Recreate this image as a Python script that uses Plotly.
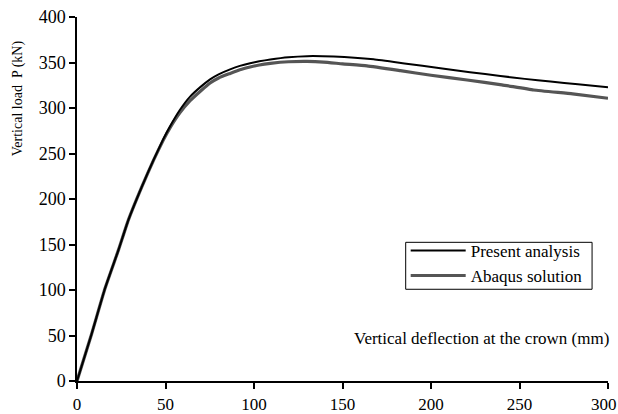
import plotly.graph_objects as go

# Present analysis (solid black)
present_x = [0, 8.3, 15.8, 23.4, 29, 36.6, 43.2, 48.8, 52.6, 58, 63.9, 70, 75.2, 80, 86.5, 92,
             97.8, 103, 109.2, 119.5, 130, 145, 167.6, 185, 205.3, 222, 239.2, 253, 267.5, 283, 300]
present_y = [0, 52, 101.6, 143.8, 176.8, 213.4, 242.8, 266, 280, 297.5, 312.5, 323.5, 331.5, 337,
             342.5, 346.3, 349.2, 351.3, 353.3, 355.8, 357, 356.5, 353.5, 349, 343.6, 339.3, 335.2,
             332, 329, 326, 322.8]

# Abaqus solution (grey, thick)
abaqus_x = [0, 8.3, 15.8, 23.4, 29, 36.6, 43.2, 48.8, 52.6, 58, 63.9, 70, 75.2, 80, 86.5, 92,
            97.8, 103, 109.2, 119.5, 130, 139.3, 150, 163.8, 182.7, 200, 220.4, 240, 258, 280, 300]
abaqus_y = [0, 52, 101.6, 143.8, 176.8, 213.4, 242.5, 265, 278.5, 294.5, 308, 319, 327.5, 333,
            338, 342, 345, 347.2, 349, 350.8, 351.2, 350.5, 348.5, 346.2, 341, 336, 330.8, 325.5,
            319.8, 315.5, 310.7]

x_ticks = [0, 50, 100, 150, 200, 250, 300]
x_tick_text = ["0", "50", "100", "150", "200", "250", "300\u00a0\u00a0"]
y_ticks = [0, 50, 100, 150, 200, 250, 300, 350, 400]

FONT = "Liberation Serif"

fig = go.Figure()
fig.add_trace(go.Scatter(x=abaqus_x, y=abaqus_y, mode="lines", name="Abaqus solution",
                         line=dict(color="#555555", width=3.2, shape="spline", smoothing=0.4),
                         showlegend=False))
fig.add_trace(go.Scatter(x=present_x, y=present_y, mode="lines", name="Present analysis",
                         line=dict(color="black", width=2, shape="spline", smoothing=0.4)))
# legend entry for Abaqus placed second
fig.add_trace(go.Scatter(x=[None], y=[None], mode="lines", name="Abaqus solution",
                         line=dict(color="#555555", width=3.2)))

fig.update_layout(
    width=618, height=414,
    margin=dict(l=77, r=10, t=17, b=33, autoexpand=False),
    paper_bgcolor="white", plot_bgcolor="white",
    font=dict(family=FONT, size=18, color="black"),
    legend=dict(x=0.619, y=0.407, xanchor="left", yanchor="top",
                borderwidth=0, bgcolor="rgba(0,0,0,0)",
                font=dict(family=FONT, size=17, color="black"),
                itemwidth=55, tracegroupgap=0),
    xaxis=dict(range=[0, 300], tickvals=x_ticks, ticktext=x_tick_text,
               showline=True, linecolor="black", linewidth=1.5, ticks="outside",
               ticklen=6, tickcolor="black", tickwidth=1.5, showgrid=False, zeroline=False,
               ticklabelstandoff=1, automargin=False, ticklabeloverflow="allow",
               tickfont=dict(family=FONT, size=17, color="black")),
    yaxis=dict(range=[0, 400], tickvals=y_ticks, ticktext=[str(v) for v in y_ticks],
               showline=True, linecolor="black", linewidth=1.5, ticks="outside",
               ticklen=6, tickcolor="black", tickwidth=1.5, showgrid=False, zeroline=False,
               automargin=False, ticklabeloverflow="allow"),
    shapes=[
        dict(type="rect", xref="paper", yref="paper", x0=0.619, x1=0.970, y0=0.252, y1=0.381,
             line=dict(color="black", width=1), fillcolor="rgba(0,0,0,0)"),
    ],
    annotations=[
        dict(text="Vertical deflection at the crown (mm)", xref="paper", yref="paper",
             x=1.005, y=0.118, xanchor="right", yanchor="middle", showarrow=False,
             font=dict(family=FONT, size=17, color="black")),
        dict(text="Vertical load  P (kN)", xref="paper", yref="paper",
             x=-0.111, y=0.777, xanchor="center", yanchor="middle", textangle=-90,
             showarrow=False, font=dict(family=FONT, size=14, color="black")),
    ],
)

fig.write_html("out.html")
